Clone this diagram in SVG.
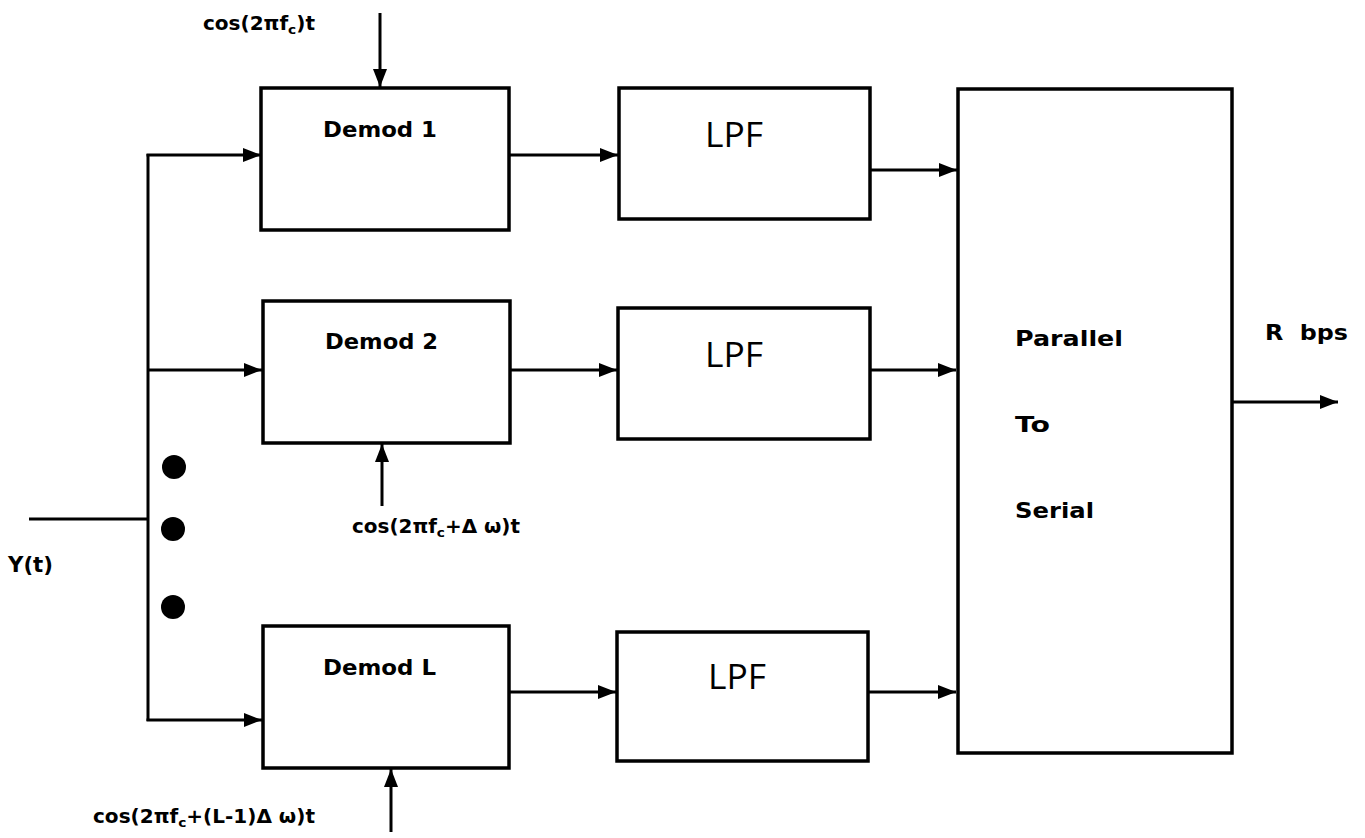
<svg xmlns="http://www.w3.org/2000/svg" width="1365" height="838" viewBox="0 0 1365 838">
  <style>
    .box { fill: #fff; stroke: #000; stroke-width: 3.5; }
    .wire { fill: none; stroke: #000; stroke-width: 3; }
    .lbl { font-family: "DejaVu Sans", "Liberation Sans", sans-serif; font-weight: bold; font-size: 21px; fill: #000; }
    .big { font-family: "Open Sans", "Liberation Sans", sans-serif; font-size: 35px; fill: #000; }
    .math { font-family: "DejaVu Sans", "Liberation Sans", sans-serif; font-weight: bold; font-size: 19px; fill: #000; }
    .sub { font-size: 13px; }
  </style>
  <defs>
    <marker id="arrow" viewBox="0 0 18 14" refX="18" refY="7" markerWidth="18" markerHeight="14" markerUnits="userSpaceOnUse" orient="auto">
      <path d="M0,0 L18,7 L0,14 Z" fill="#000"/>
    </marker>
  </defs>

  <rect width="1365" height="838" fill="#fff"/>

  <!-- connectors -->
  <g id="connectors">
    <!-- input line and distribution bus -->
    <line class="wire" x1="29" y1="519" x2="148" y2="519"/>
    <line class="wire" x1="148" y1="154" x2="148" y2="721"/>
    <line class="wire" x1="146.5" y1="155" x2="261" y2="155" marker-end="url(#arrow)"/>
    <line class="wire" x1="148" y1="370" x2="262" y2="370" marker-end="url(#arrow)"/>
    <line class="wire" x1="146.5" y1="720" x2="262" y2="720" marker-end="url(#arrow)"/>
    <!-- carriers -->
    <line class="wire" x1="380" y1="13" x2="380" y2="87" marker-end="url(#arrow)"/>
    <line class="wire" x1="382" y1="506" x2="382" y2="444" marker-end="url(#arrow)"/>
    <line class="wire" x1="391" y1="832" x2="391" y2="769" marker-end="url(#arrow)"/>
    <!-- demod to LPF -->
    <line class="wire" x1="510" y1="155" x2="618" y2="155" marker-end="url(#arrow)"/>
    <line class="wire" x1="510" y1="370" x2="617" y2="370" marker-end="url(#arrow)"/>
    <line class="wire" x1="510" y1="692" x2="616" y2="692" marker-end="url(#arrow)"/>
    <!-- LPF to parallel-to-serial -->
    <line class="wire" x1="870" y1="170" x2="957" y2="170" marker-end="url(#arrow)"/>
    <line class="wire" x1="870" y1="370" x2="956" y2="370" marker-end="url(#arrow)"/>
    <line class="wire" x1="868" y1="692" x2="956" y2="692" marker-end="url(#arrow)"/>
    <!-- serial output -->
    <line class="wire" x1="1232" y1="402" x2="1338" y2="402" marker-end="url(#arrow)"/>
  </g>

  <!-- ellipsis dots on the bus -->
  <g id="dots">
    <circle cx="174" cy="467" r="12" fill="#000"/>
    <circle cx="173" cy="529" r="12" fill="#000"/>
    <circle cx="173" cy="607" r="12" fill="#000"/>
  </g>

  <g id="demod1">
    <rect class="box" x="261" y="88" width="248" height="142"/>
    <text class="lbl" x="323" y="137" textLength="114" lengthAdjust="spacingAndGlyphs">Demod 1</text>
  </g>
  <g id="demod2">
    <rect class="box" x="263" y="301" width="247" height="142"/>
    <text class="lbl" x="325" y="349" textLength="113" lengthAdjust="spacingAndGlyphs">Demod 2</text>
  </g>
  <g id="demodL">
    <rect class="box" x="263" y="626" width="246" height="142"/>
    <text class="lbl" x="323" y="675" textLength="113" lengthAdjust="spacingAndGlyphs">Demod L</text>
  </g>

  <g id="lpf1">
    <rect class="box" x="619" y="88" width="251" height="131"/>
    <text class="big" x="705" y="147" textLength="58" lengthAdjust="spacingAndGlyphs">LPF</text>
  </g>
  <g id="lpf2">
    <rect class="box" x="618" y="308" width="252" height="131"/>
    <text class="big" x="705" y="367" textLength="58" lengthAdjust="spacingAndGlyphs">LPF</text>
  </g>
  <g id="lpf3">
    <rect class="box" x="617" y="632" width="251" height="129"/>
    <text class="big" x="708" y="689" textLength="58" lengthAdjust="spacingAndGlyphs">LPF</text>
  </g>

  <g id="p2s">
    <rect class="box" x="958" y="89" width="274" height="664"/>
    <text class="lbl" x="1015" y="346" textLength="108" lengthAdjust="spacingAndGlyphs">Parallel</text>
    <text class="lbl" x="1015" y="432" textLength="35" lengthAdjust="spacingAndGlyphs">To</text>
    <text class="lbl" x="1015" y="518" textLength="79" lengthAdjust="spacingAndGlyphs">Serial</text>
  </g>

  <!-- signal labels -->
  <g id="labels">
    <text class="lbl" x="8" y="572" textLength="45" lengthAdjust="spacingAndGlyphs">Y(t)</text>
    <text class="lbl" x="1265" y="340" xml:space="preserve" textLength="83" lengthAdjust="spacingAndGlyphs">R  bps</text>
    <text class="math" x="203" y="30" textLength="112" lengthAdjust="spacingAndGlyphs">cos(2πf<tspan class="sub" dy="4">c</tspan><tspan dy="-4">)t</tspan></text>
    <text class="math" x="352" y="533" textLength="168" lengthAdjust="spacingAndGlyphs">cos(2πf<tspan class="sub" dy="4">c</tspan><tspan dy="-4">+Δ ω)t</tspan></text>
    <text class="math" x="93" y="823" textLength="222" lengthAdjust="spacingAndGlyphs">cos(2πf<tspan class="sub" dy="4">c</tspan><tspan dy="-4">+(L-1)Δ ω)t</tspan></text>
  </g>
</svg>
